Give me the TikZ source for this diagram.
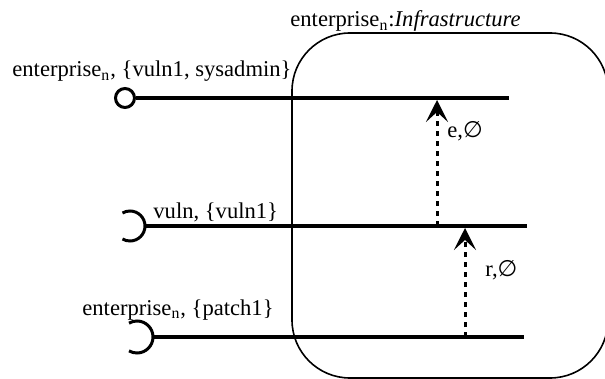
\documentclass[tikz,border=0pt]{standalone}
\usepackage{fontspec}
\setmainfont{Liberation Serif}
\newfontfamily\simbolo{DejaVu Sans}
\usetikzlibrary{arrows.meta}

\begin{document}
\begin{tikzpicture}[
    x=0.5pt, y=-0.5pt,
    font=\fontsize{11.3}{13.5}\selectfont,
    % Linhas das interfaces
    fio/.style={draw, line width=1.6pt},
    % Interface fornecida (bola) e requerida (soquete)
    bola/.style={
        circle,
        draw,
        line width=1.5pt,
        minimum size=9.5pt,
        inner sep=0pt
    },
    soquete/.style={draw, line width=1.5pt},
    % Fluxo tracejado
    fluxo/.style={
        draw,
        line width=1.5pt,
        dash pattern=on 2.5pt off 2.5pt,
        -{Stealth[length=11pt, width=11pt, inset=5pt]}
    },
    rotulo/.style={anchor=base west, inner sep=0pt},
    caixa/.style={draw, line width=0.8pt, rounded corners=29pt}
]
\clip (0,0) rectangle (605,379);

% ---- COMPONENTE ----
\draw[caixa] (292,33) rectangle (608,378);
\node[rotulo] (titulo) at (290,27)
    {enterprise\textsubscript{n}:\textit{Infrastructure}};

% ---- INTERFACE 1 (FORNECIDA) ----
\node[bola] (b1) at (125,98) {};
\coordinate (f1) at (509,98);
\draw[fio] (b1.east) -- (f1);
\node[rotulo] (r1) at (12,77) {enterprise\textsubscript{n}, \{vuln1, sysadmin\}};

% ---- INTERFACE 2 (REQUERIDA) ----
\coordinate (s2) at (145,226);
\coordinate (f2) at (527,226);
\draw[soquete] (s2) arc[start angle=0, end angle=120, radius=15]
               (s2) arc[start angle=0, end angle=-120, radius=15];
\draw[fio] (s2) -- (f2);
\node[rotulo] (r2) at (153,219) {vuln, \{vuln1\}};

% ---- INTERFACE 3 (REQUERIDA) ----
\coordinate (s3) at (153,337);
\coordinate (f3) at (524,337);
\draw[soquete] (s3) arc[start angle=0, end angle=120, radius=16]
               (s3) arc[start angle=0, end angle=-120, radius=16];
\draw[fio] (s3) -- (f3);
\node[rotulo] (r3) at (82,315) {enterprise\textsubscript{n}, \{patch1\}};

% ---- FLUXOS ----
\coordinate (e_ini) at (437,226);
\coordinate (e_fim) at (437,100);
\draw[fluxo] (e_ini) -- (e_fim);
\node[rotulo] (le) at (447,138) {e,{\simbolo ∅}};

\coordinate (r_ini) at (465,337);
\coordinate (r_fim) at (465,228);
\draw[fluxo] (r_ini) -- (r_fim);
\node[rotulo] (lr) at (485,277) {r,{\simbolo ∅}};

\end{tikzpicture}
\end{document}
